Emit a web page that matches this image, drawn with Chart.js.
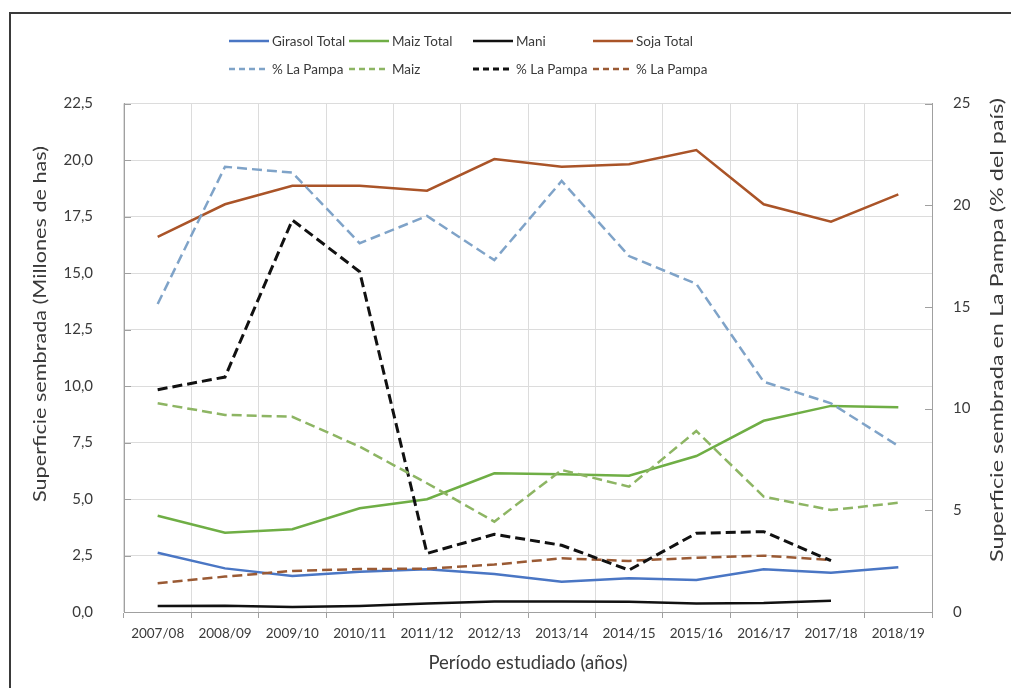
<!DOCTYPE html>
<html>
<head>
<meta charset="utf-8">
<script src="https://cdn.jsdelivr.net/npm/chart.js@4.4.1/dist/chart.umd.min.js"></script>
<style>
  html, body { margin: 0; padding: 0; background: #ffffff; }
  #wrap { position: relative; width: 1011px; height: 688px; }
</style>
</head>
<body>
<div id="wrap"><canvas id="chart" width="1011" height="688"></canvas></div>
<script>
// Campaigns (x axis)
const categories = ['2007/08', '2008/09', '2009/10', '2010/11', '2011/12', '2012/13',
                    '2013/14', '2014/15', '2015/16', '2016/17', '2017/18', '2018/19'];

// Area sown in the whole country, millions of hectares (left axis)
const girasolTotal = [2.62, 1.93, 1.59, 1.78, 1.89, 1.68, 1.34, 1.49, 1.42, 1.89, 1.74, 1.98];
const maizTotal    = [4.26, 3.51, 3.66, 4.59, 4.99, 6.14, 6.10, 6.03, 6.90, 8.46, 9.12, 9.06];
const maniTotal    = [0.27, 0.28, 0.22, 0.27, 0.38, 0.46, 0.46, 0.45, 0.38, 0.40, 0.50, null];
const sojaTotal    = [16.60, 18.04, 18.86, 18.86, 18.64, 20.04, 19.70, 19.81, 20.44, 18.04, 17.27, 18.48];

// Share sown in La Pampa, % of the country (right axis)
const girasolPct = [15.14, 21.89, 21.60, 18.13, 19.47, 17.30, 21.19, 17.50, 16.13, 11.32, 10.26, 8.16];
const maizPct    = [10.26, 9.69, 9.60, 8.13, 6.33, 4.44, 6.98, 6.16, 8.90, 5.67, 5.01, 5.37];
const maniPct    = [10.93, 11.55, 19.27, 16.73, 2.88, 3.82, 3.28, 2.06, 3.87, 3.95, 2.52, null];
const sojaPct    = [1.41, 1.74, 2.02, 2.11, 2.13, 2.33, 2.64, 2.51, 2.67, 2.77, 2.56, null];

// Axis ranges
const leftMax = 22.5, leftStep = 2.5;
const rightMax = 25, rightStep = 5;

// Titles
const leftTitle = 'Superficie sembrada (Millones de has)';
const rightTitle = 'Superficie sembrada en La Pampa (% del país)';
const xTitle = 'Período estudiado (años)';

const FONT = 'Lato, "Liberation Sans", sans-serif';
const TEXT = '#3a3a3a';
const GRID = '#dcdcdc';
const AXIS = '#a0a0a0';
const DASH = [10, 5];

function line(label, data, color, axis, opts) {
  return Object.assign({
    label, data, yAxisID: axis,
    borderColor: color, backgroundColor: color,
    borderWidth: 2.5, pointRadius: 0, tension: 0, fill: false,
    spanGaps: false, borderJoinStyle: 'miter', borderCapStyle: 'butt'
  }, opts || {});
}

const datasets = [
  line('Girasol Total', girasolTotal, '#4a76c4', 'y', { order: 2 }),
  line('Maiz Total', maizTotal, '#6fae45', 'y', { order: 2 }),
  line('Mani', maniTotal, '#111111', 'y', { order: 2 }),
  line('Soja Total', sojaTotal, '#aa5428', 'y', { order: 2 }),
  line('% La Pampa', girasolPct, '#7fa3c8', 'y2', { borderDash: DASH, order: 1 }),
  line('Maiz', maizPct, '#8db563', 'y2', { borderDash: DASH, order: 1 }),
  line('% La Pampa', maniPct, '#111111', 'y2', { borderDash: DASH, borderWidth: 3, order: 1 }),
  line('% La Pampa', sojaPct, '#9a5a34', 'y2', { borderDash: DASH, borderWidth: 2.5, order: 1 })
];

// Draws a vertical title reading bottom to top, spread along a given length
function verticalTitle(ctx, text, cx, cy, length, size) {
  ctx.save();
  ctx.font = size + 'px ' + FONT;
  const w = ctx.measureText(text).width;
  ctx.translate(cx, cy);
  ctx.rotate(-Math.PI / 2);
  ctx.scale(length / w, 1);
  ctx.fillText(text, 0, 0);
  ctx.restore();
}

// Frame, inward axis ticks, rotated axis titles and a two-row legend
const decorations = {
  id: 'decorations',
  beforeDraw(chart) {
    const ctx = chart.ctx;
    ctx.save();
    ctx.fillStyle = '#ffffff';
    ctx.fillRect(0, 0, chart.width, chart.height);
    ctx.strokeStyle = '#3a3a3a';
    ctx.lineWidth = 2;
    ctx.beginPath();
    ctx.moveTo(10, chart.height + 5);
    ctx.lineTo(10, 13);
    ctx.lineTo(chart.width + 5, 13);
    ctx.stroke();
    ctx.restore();
  },
  afterDraw(chart) {
    const ctx = chart.ctx;
    const area = chart.chartArea;
    const y = chart.scales.y, y2 = chart.scales.y2;
    ctx.save();

    // short tick marks pointing into the plot
    ctx.strokeStyle = AXIS;
    ctx.lineWidth = 1;
    ctx.beginPath();
    y.ticks.forEach(t => {
      const py = Math.round(y.getPixelForValue(t.value)) + 0.5;
      ctx.moveTo(area.left, py); ctx.lineTo(area.left + 7, py);
    });
    y2.ticks.forEach(t => {
      const py = Math.round(y2.getPixelForValue(t.value)) + 0.5;
      ctx.moveTo(area.right, py); ctx.lineTo(area.right - 7, py);
    });
    ctx.stroke();

    // axis titles, reading bottom to top
    ctx.fillStyle = TEXT;
    ctx.textAlign = 'center';
    ctx.textBaseline = 'middle';
    verticalTitle(ctx, leftTitle, 40, 324, 356, 18);
    verticalTitle(ctx, rightTitle, 997, 330, 464, 18);

    // legend: two rows of four
    const cols = [229, 349, 473, 593];
    const rows = [41, 69];
    ctx.font = '13.5px ' + FONT;
    ctx.textAlign = 'left';
    chart.data.datasets.forEach((ds, i) => {
      const x = cols[i % 4], yy = rows[Math.floor(i / 4)];
      ctx.strokeStyle = ds.borderColor;
      ctx.lineWidth = ds.borderWidth;
      ctx.setLineDash(ds.borderDash ? [6, 4] : []);
      ctx.beginPath();
      ctx.moveTo(x, yy); ctx.lineTo(x + 40, yy);
      ctx.stroke();
      ctx.setLineDash([]);
      ctx.fillStyle = TEXT;
      ctx.fillText(ds.label, x + 43, yy + 1);
    });
    ctx.restore();
  }
};

new Chart(document.getElementById('chart'), {
  type: 'line',
  data: { labels: categories, datasets },
  options: {
    responsive: false,
    animation: false,
    devicePixelRatio: 1,
    layout: { padding: { top: 103.5, left: 0, right: 0, bottom: 0 } },
    plugins: { legend: { display: false }, tooltip: { enabled: false } },
    scales: {
      x: {
        offset: true,
        grid: { offset: true, color: GRID, tickColor: AXIS, tickLength: 6, drawOnChartArea: true },
        border: { color: AXIS, width: 1 },
        ticks: { color: TEXT, font: { family: FONT, size: 13.5 }, padding: 8, maxRotation: 0, autoSkip: false },
        title: { display: true, text: xTitle, color: TEXT, font: { family: FONT, size: 18.5 }, padding: { top: 4, bottom: 14 } },
        afterFit(scale) { scale.height = 76; }
      },
      y: {
        position: 'left',
        min: 0, max: leftMax,
        grid: { color: GRID, drawTicks: false },
        border: { color: AXIS, width: 1 },
        ticks: {
          stepSize: leftStep, color: TEXT, padding: 31,
          font: { family: FONT, size: 15 },
          callback: v => Number(v).toFixed(1).replace('.', ',')
        },
        afterFit(scale) { scale.width = 124; }
      },
      y2: {
        position: 'right',
        min: 0, max: rightMax,
        grid: { drawOnChartArea: false, drawTicks: false },
        border: { color: AXIS, width: 1 },
        ticks: { stepSize: rightStep, color: TEXT, padding: 21, font: { family: FONT, size: 15 } },
        afterFit(scale) { scale.width = 79; }
      }
    }
  },
  plugins: [decorations]
});
</script>
</body>
</html>
